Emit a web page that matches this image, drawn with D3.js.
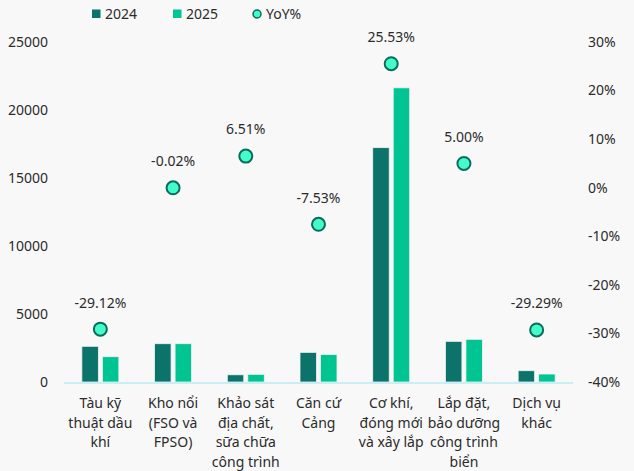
<!DOCTYPE html>
<html>
<head>
<meta charset="utf-8">
<script src="https://cdn.jsdelivr.net/npm/d3@7"></script>
<style>
  html, body { margin: 0; padding: 0; background: #f8f8f8; }
  svg { display: block; font-family: "Noto Sans", "Open Sans", sans-serif; }
  .tick-label { font-size: 14px; fill: #2b2b2b; }
</style>
</head>
<body>
<div id="chart"></div>
<script>
const categories = [
  ['Tàu kỹ', 'thuật dầu', 'khí'],
  ['Kho nổi', '(FSO và', 'FPSO)'],
  ['Khảo sát', 'địa chất,', 'sữa chữa', 'công trình'],
  ['Căn cứ', 'Cảng'],
  ['Cơ khí,', 'đóng mới', 'và xây lắp'],
  ['Lắp đặt,', 'bảo dưỡng', 'công trình', 'biển'],
  ['Dịch vụ', 'khác']
];
const values2024 = [2625, 2815, 530, 2180, 17230, 2990, 830];
const values2025 = [1860, 2815, 565, 2015, 21630, 3140, 587];
const yoy = [-29.12, -0.02, 6.51, -7.53, 25.53, 5.00, -29.29];
const leftTicks = [0, 5000, 10000, 15000, 20000, 25000];
const rightTicks = [-40, -30, -20, -10, 0, 10, 20, 30];

const width = 634, height = 471;
const margin = {top: 42, right: 61, bottom: 89, left: 64};
const innerW = width - margin.left - margin.right;
const innerH = height - margin.top - margin.bottom;

const svg = d3.select('#chart').append('svg')
  .attr('width', width)
  .attr('height', height);

const g = svg.append('g')
  .attr('transform', `translate(${margin.left},${margin.top})`);

const x = d3.scaleBand().domain(d3.range(categories.length)).range([0, innerW]);
const yLeft = d3.scaleLinear().domain([0, 25000]).range([innerH, 0]);
const yRight = d3.scaleLinear().domain([-40, 30]).range([innerH, 0]);

const barW = 16.5, barGap = 4;
const c2024 = '#0b7369', c2025 = '#00c491';

// left axis labels
g.selectAll('.yl').data(leftTicks).enter().append('text')
  .attr('class', 'tick-label')
  .attr('x', -16)
  .attr('y', d => yLeft(d))
  .attr('dy', '0.35em')
  .attr('text-anchor', 'end')
  .text(d => d);

// right axis labels
g.selectAll('.yr').data(rightTicks).enter().append('text')
  .attr('class', 'tick-label')
  .attr('x', innerW + 15)
  .attr('y', d => yRight(d))
  .attr('dy', '0.35em')
  .text(d => d + '%');

// bars
const groups = g.selectAll('.cat').data(categories).enter().append('g')
  .attr('class', 'cat')
  .attr('transform', (d, i) => `translate(${x(i) + x.bandwidth() / 2},0)`);

groups.append('rect')
  .attr('x', -barW - barGap / 2)
  .attr('width', barW)
  .attr('y', (d, i) => yLeft(values2024[i]))
  .attr('height', (d, i) => innerH - yLeft(values2024[i]))
  .attr('fill', c2024)
  .attr('stroke', '#f2f2f2')
  .attr('stroke-width', 0.8);

groups.append('rect')
  .attr('x', barGap / 2)
  .attr('width', barW)
  .attr('y', (d, i) => yLeft(values2025[i]))
  .attr('height', (d, i) => innerH - yLeft(values2025[i]))
  .attr('fill', c2025)
  .attr('stroke', '#f2f2f2')
  .attr('stroke-width', 0.8);

// baseline
g.append('line')
  .attr('x1', 0).attr('x2', innerW)
  .attr('y1', innerH + 1).attr('y2', innerH + 1)
  .attr('stroke', '#c9eef4')
  .attr('stroke-width', 2);

// category labels
groups.append('text')
  .attr('class', 'tick-label')
  .attr('text-anchor', 'middle')
  .selectAll('tspan').data(d => d).enter().append('tspan')
  .attr('x', 0)
  .attr('y', (d, j) => innerH + 26 + j * 19.5)
  .text(d => d);

// YoY dots
groups.append('circle')
  .attr('cy', (d, i) => yRight(yoy[i]))
  .attr('r', 6.5)
  .attr('fill', '#42fcc9')
  .attr('stroke', '#0b6b5c')
  .attr('stroke-width', 2);

groups.append('text')
  .attr('class', 'tick-label')
  .attr('text-anchor', 'middle')
  .attr('y', (d, i) => yRight(yoy[i]) - 26.5)
  .attr('dy', '0.35em')
  .text((d, i) => yoy[i].toFixed(2) + '%');

// legend
const legend = svg.append('g').attr('transform', 'translate(0,14)');
const legendItems = [
  {label: '2024', x: 92, type: 'rect', color: c2024},
  {label: '2025', x: 173, type: 'rect', color: c2025},
  {label: 'YoY%', x: 253, type: 'circle'}
];
legendItems.forEach(it => {
  if (it.type === 'rect') {
    legend.append('rect')
      .attr('x', it.x).attr('y', -4.5)
      .attr('width', 8.5).attr('height', 8.5)
      .attr('fill', it.color);
  } else {
    legend.append('circle')
      .attr('cx', it.x + 4).attr('cy', 0)
      .attr('r', 4)
      .attr('fill', '#42fcc9')
      .attr('stroke', '#0b6b5c')
      .attr('stroke-width', 1.5);
  }
  legend.append('text')
    .attr('class', 'tick-label')
    .attr('x', it.x + 13)
    .attr('y', 0)
    .attr('dy', '0.35em')
    .text(it.label);
});
</script>
</body>
</html>
